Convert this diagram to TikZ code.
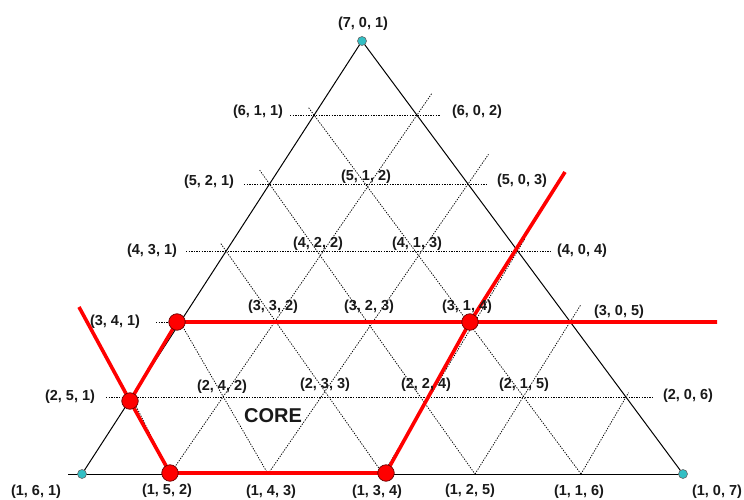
\documentclass[tikz,border=0pt]{standalone}
\usepackage{fontspec}
\setmainfont{Liberation Sans}
\usetikzlibrary{calc}
\definecolor{cyanc}{RGB}{51,191,196}
\definecolor{redc}{RGB}{255,0,0}
\pgfdeclarelayer{bg}
\pgfsetlayers{bg,main}
\begin{document}
\begin{tikzpicture}[x=1pt,y=-1pt,
  edge/.style={black, line width=1pt},
  gridline/.style={black, line width=0.75pt, dash pattern=on 1.3pt off 1.3pt},
  redline/.style={redc, line width=3.6pt, line join=round},
  reddot/.style={circle, fill=redc, draw=black!60!red, line width=0.7pt, inner sep=0pt, minimum size=16.5pt},
  cyandot/.style={circle, fill=cyanc, draw=black!60, line width=0.6pt, inner sep=0pt, minimum size=9pt},
  lab/.style={font=\bfseries\fontsize{14.5}{16}\selectfont, text=black!90, inner sep=0pt},
]
\useasboundingbox (0,0) rectangle (744,500);

% corners
\coordinate (A) at (362,41);
\coordinate (BL) at (82,474);
\coordinate (BR) at (683,474);
\coordinate (Bs) at (68,474);
% left edge points
\coordinate (L1) at (314,115);
\coordinate (L2) at (269.5,184);
\coordinate (L3) at (226,251);
\coordinate (L4) at (180,322);
\coordinate (L5) at (131.5,397);
% right edge points
\coordinate (R2) at (417,115);
\coordinate (R3) at (468,184);
\coordinate (R4) at (517.5,251);
\coordinate (R5) at (570,322);
\coordinate (R6) at (626,397);
% bottom points
\coordinate (B2) at (170,474);
\coordinate (B3) at (268,474);
\coordinate (B4) at (383,474);
\coordinate (B5) at (475,474);
\coordinate (B6) at (581,474);
% ends of the dotted horizontals
\coordinate (h6a) at (290,115); \coordinate (h6b) at (440,115);
\coordinate (h5a) at (244,184); \coordinate (h5b) at (488,184);
\coordinate (h4a) at (186,251); \coordinate (h4b) at (551,251);
\coordinate (h3a) at (156,322); \coordinate (h3b) at (570,322);
\coordinate (h2a) at (106,397); \coordinate (h2b) at (653,397);
% free ends of the red lines
\coordinate (rtl) at (79,307);
\coordinate (rtr) at (565,172);
\coordinate (rend) at (717,322);

% red dots and corner dots
\node[reddot] (d341) at (177,322) {};
\node[reddot] (d251) at (130,401) {};
\node[reddot] (d152) at (170,473) {};
\node[reddot] (d134) at (386,473) {};
\node[reddot] (d314) at (470,322) {};
\node[cyandot] (c701) at (A) {};
\node[cyandot] (c161) at (BL) {};
\node[cyandot] (c107) at (BR) {};

\begin{pgfonlayer}{bg}
% dotted horizontals
\draw[gridline] (h6a) -- (h6b);
\draw[gridline] (h5a) -- (h5b);
\draw[gridline] (h4a) -- (h4b);
\draw[gridline] (h3a) -- (h3b);
\draw[gridline] (h2a) -- (h2b);
% dotted lines running down to the right
\draw[gridline] ($(L1)!-9pt!(B6)$) -- (B6);
\draw[gridline] ($(L2)!-17pt!(B5)$) -- (B5);
\draw[gridline] ($(L3)!-9pt!(B4)$) -- (B4);
\draw[gridline] ($(L4)!-5pt!(B3)$) -- (B3);
\draw[gridline] (L5) -- (B2);
% dotted lines running up to the right
\draw[gridline] (B2) -- ($(R2)!-26pt!(B2)$);
\draw[gridline] (B3) -- ($(R3)!-36pt!(B3)$);
\draw[gridline] (B4) -- ($(R4)!-15pt!(B4)$);
\draw[gridline] (B5) -- ($(R5)!-20pt!(B5)$);
\draw[gridline] (B6) -- ($(R6)!-5pt!(B6)$);
% triangle
\draw[edge] (c161.center) -- (c701.center) -- (c107.center);
\draw[edge] (Bs) -- (c107.center);
% red lines
\draw[redline] (rtl) -- (d251.center) -- (d152.center) -- (d134.center) -- (d314.center) -- (rtr);
\draw[redline] (d251.center) -- (d341.center) -- (d314.center) -- (rend);
\end{pgfonlayer}

% labels
\node[lab] (t701) at (363,24) {(7, 0, 1)};
\node[lab] (t611) at (258,112) {(6, 1, 1)};
\node[lab] (t602) at (477,112) {(6, 0, 2)};
\node[lab] (t521) at (209,182) {(5, 2, 1)};
\node[lab] (t512) at (366,177) {(5, 1, 2)};
\node[lab] (t503) at (522,181) {(5, 0, 3)};
\node[lab] (t431) at (152,251) {(4, 3, 1)};
\node[lab] (t422) at (318,244) {(4, 2, 2)};
\node[lab] (t413) at (417,244) {(4, 1, 3)};
\node[lab] (t404) at (582,251) {(4, 0, 4)};
\node[lab] (t341) at (115,322) {(3, 4, 1)};
\node[lab] (t332) at (273,307) {(3, 3, 2)};
\node[lab] (t323) at (369,307) {(3, 2, 3)};
\node[lab] (t314) at (467,307) {(3, 1, 4)};
\node[lab] (t305) at (619,312) {(3, 0, 5)};
\node[lab] (t251) at (70,397) {(2, 5, 1)};
\node[lab] (t242) at (222,387) {(2, 4, 2)};
\node[lab] (t233) at (325,385) {(2, 3, 3)};
\node[lab] (t224) at (426,385) {(2, 2, 4)};
\node[lab] (t215) at (524,385) {(2, 1, 5)};
\node[lab] (t206) at (688,396) {(2, 0, 6)};
\node[lab] (t161) at (36,492) {(1, 6, 1)};
\node[lab] (t152) at (167,491) {(1, 5, 2)};
\node[lab] (t143) at (271,492) {(1, 4, 3)};
\node[lab] (t134) at (377,492) {(1, 3, 4)};
\node[lab] (t125) at (470,491) {(1, 2, 5)};
\node[lab] (t116) at (579,492) {(1, 1, 6)};
\node[lab] (t107) at (717,492) {(1, 0, 7)};
\node[font=\bfseries\fontsize{20}{22}\selectfont, text=black!90, inner sep=0pt] (core) at (273,416) {CORE};
\end{tikzpicture}
\end{document}
